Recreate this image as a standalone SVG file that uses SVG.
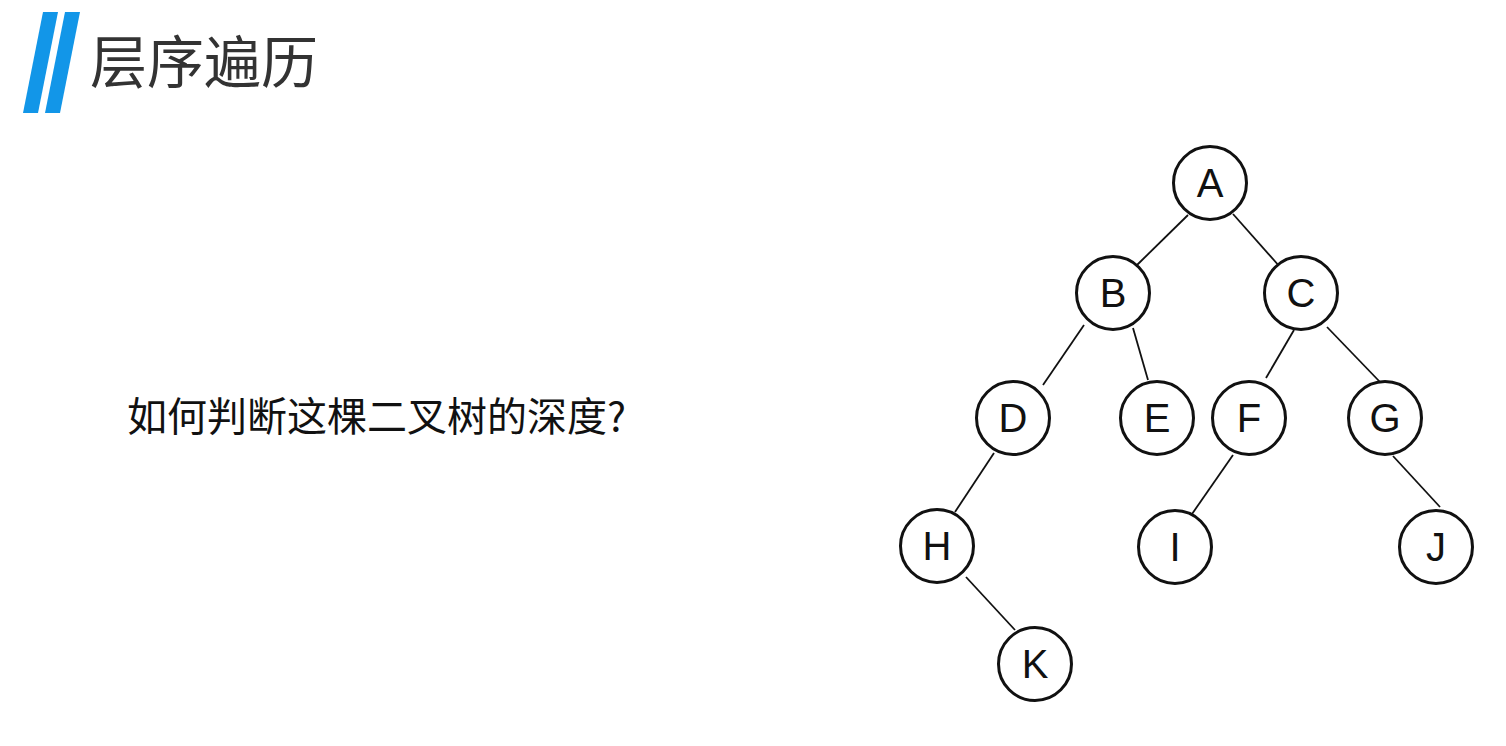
<svg xmlns="http://www.w3.org/2000/svg" width="1506" height="746" viewBox="0 0 1506 746">
<style>
.node circle{fill:#fff;stroke:#111;stroke-width:3}
.node text{font-family:"Liberation Sans","Noto Sans",sans-serif;font-size:40px;fill:#111;text-anchor:middle}
.edges line{stroke:#111;stroke-width:1.8}
.cjk{font-family:"Noto Sans CJK SC","Noto Sans",sans-serif}
</style>
<rect width="1506" height="746" fill="#fff"/>
<g id="title">
<polygon points="43,12 58,12 38,113 23,113" fill="#1296E8"/>
<polygon points="65,12 80,12 60,113 45,113" fill="#1296E8"/>
<text x="90" y="83" class="cjk" font-size="57" fill="#333">层序遍历</text>
</g>
<text id="question" x="127" y="431" class="cjk" font-size="40" fill="#111">如何判断这棵二叉树的深度?</text>
<g class="edges" id="connectors">
<line x1="1188" y1="215" x2="1137" y2="265"/>
<line x1="1233" y1="214" x2="1280" y2="267"/>
<line x1="1084" y1="325" x2="1043" y2="385"/>
<line x1="1133" y1="328" x2="1148" y2="380"/>
<line x1="1294" y1="330" x2="1266" y2="378"/>
<line x1="1327" y1="327" x2="1380" y2="382"/>
<line x1="994" y1="453" x2="955" y2="512"/>
<line x1="966" y1="577" x2="1015" y2="630"/>
<line x1="1233" y1="455" x2="1192" y2="514"/>
<line x1="1393" y1="456" x2="1440" y2="507"/>
</g>
<g class="node" id="nA"><circle cx="1210" cy="183" r="36.5"/><text x="1210" y="197">A</text></g>
<g class="node" id="nB"><circle cx="1113" cy="293" r="36.5"/><text x="1113" y="307">B</text></g>
<g class="node" id="nC"><circle cx="1301" cy="293" r="36.5"/><text x="1301" y="307">C</text></g>
<g class="node" id="nD"><circle cx="1013" cy="418" r="36.5"/><text x="1013" y="432">D</text></g>
<g class="node" id="nE"><circle cx="1157" cy="418" r="36.5"/><text x="1157" y="432">E</text></g>
<g class="node" id="nF"><circle cx="1249" cy="418" r="36.5"/><text x="1249" y="432">F</text></g>
<g class="node" id="nG"><circle cx="1385" cy="418" r="36.5"/><text x="1385" y="432">G</text></g>
<g class="node" id="nH"><circle cx="937" cy="546" r="36.5"/><text x="937" y="560">H</text></g>
<g class="node" id="nI"><circle cx="1175" cy="547" r="36.5"/><text x="1175" y="561">I</text></g>
<g class="node" id="nJ"><circle cx="1436" cy="547" r="36.5"/><text x="1436" y="561">J</text></g>
<g class="node" id="nK"><circle cx="1035" cy="664" r="36.5"/><text x="1035" y="678">K</text></g>
</svg>
